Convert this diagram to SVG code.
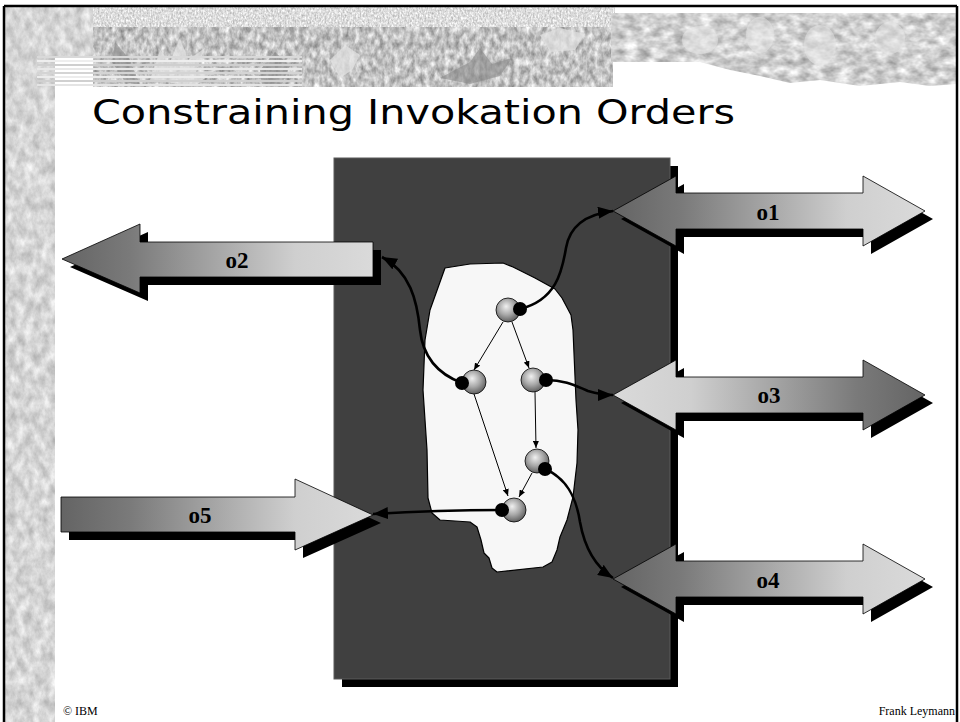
<svg xmlns="http://www.w3.org/2000/svg" xmlns:xlink="http://www.w3.org/1999/xlink" width="960" height="722" viewBox="0 0 960 722">
  <defs>
    <style>
      .arrow { stroke: #000; stroke-width: 0.8; }
      .shadow { fill: #000; }
      .lbl { font-family: "Liberation Serif", "Times New Roman", serif; font-weight: bold; font-size: 23px; text-anchor: middle; fill: #000; }
      .foot { font-family: "Liberation Serif", "Times New Roman", serif; font-size: 12px; fill: #000; }
      .sphere { fill: url(#sph); stroke: #000; stroke-width: 0.8; }
      .dot { fill: #000; }
      .thin { fill: none; stroke: #000; stroke-width: 1; marker-end: url(#as); }
      .thick { fill: none; stroke: #000; stroke-width: 2.6; marker-end: url(#ah); }
    </style>
    <filter id="texStrip" x="0" y="0" width="1" height="1" color-interpolation-filters="sRGB">
      <feTurbulence type="fractalNoise" baseFrequency="0.12 0.08" numOctaves="4" seed="7" result="n"/>
      <feColorMatrix in="n" type="matrix" values="0.35 0 0 0 0.66  0.35 0 0 0 0.66  0.35 0 0 0 0.66  0 0 0 0 1" result="g"/>
      <feComposite in="g" in2="SourceGraphic" operator="in"/>
    </filter>
    <filter id="texLight" x="0" y="0" width="1" height="1" color-interpolation-filters="sRGB">
      <feTurbulence type="fractalNoise" baseFrequency="0.6 0.4" numOctaves="2" seed="3" result="n"/>
      <feColorMatrix in="n" type="matrix" values="0.45 0 0 0 0.64  0.45 0 0 0 0.64  0.45 0 0 0 0.64  0 0 0 0 1" result="g"/>
      <feComposite in="g" in2="SourceGraphic" operator="in"/>
    </filter>
    <filter id="texMid" x="0" y="0" width="1" height="1" color-interpolation-filters="sRGB">
      <feTurbulence type="fractalNoise" baseFrequency="0.2 0.12" numOctaves="3" seed="11" result="n"/>
      <feColorMatrix in="n" type="matrix" values="0.6 0 0 0 0.46  0.6 0 0 0 0.46  0.6 0 0 0 0.46  0 0 0 0 1" result="g"/>
      <feComposite in="g" in2="SourceGraphic" operator="in"/>
    </filter>
    <filter id="texRock" x="0" y="0" width="1" height="1" color-interpolation-filters="sRGB">
      <feTurbulence type="fractalNoise" baseFrequency="0.08 0.12" numOctaves="3" seed="21" result="n"/>
      <feColorMatrix in="n" type="matrix" values="0.55 0 0 0 0.54  0.55 0 0 0 0.54  0.55 0 0 0 0.54  0 0 0 0 1" result="g"/>
      <feComposite in="g" in2="SourceGraphic" operator="in"/>
    </filter>
    <linearGradient id="gDarkLight" x1="0" y1="0" x2="1" y2="0">
      <stop offset="0" stop-color="#646464"/>
      <stop offset="0.22" stop-color="#7a7a7a"/>
      <stop offset="0.75" stop-color="#cfcfcf"/>
      <stop offset="1" stop-color="#dadada"/>
    </linearGradient>
    <linearGradient id="gLightDark" x1="0" y1="0" x2="1" y2="0">
      <stop offset="0" stop-color="#dadada"/>
      <stop offset="0.25" stop-color="#cfcfcf"/>
      <stop offset="0.78" stop-color="#7a7a7a"/>
      <stop offset="1" stop-color="#646464"/>
    </linearGradient>
    <radialGradient id="sph" cx="0.45" cy="0.4" r="0.6" fx="0.42" fy="0.35">
      <stop offset="0" stop-color="#f0f0f0"/>
      <stop offset="0.55" stop-color="#a8a8a8"/>
      <stop offset="1" stop-color="#606060"/>
    </radialGradient>
    <marker id="ah" viewBox="0 0 15 12" refX="15" refY="6" markerWidth="15" markerHeight="12" markerUnits="userSpaceOnUse" orient="auto">
      <path d="M0,0 L15,6 L0,12 Z" fill="#000"/>
    </marker>
    <marker id="as" viewBox="0 0 7 6" refX="7" refY="3" markerWidth="7" markerHeight="6" markerUnits="userSpaceOnUse" orient="auto">
      <path d="M0,0 L7,3 L0,6 Z" fill="#000"/>
    </marker>
    <path id="dbl" d="M613,0 L676,-35 L676,-18 L863,-18 L863,-35 L925,0 L863,35 L863,18 L676,18 L676,35 Z"/>
  </defs>

  <rect x="0" y="0" width="960" height="722" fill="#fff"/>

  <!-- slide decoration -->
  <g id="decoration">
    <path d="M5,7 L93,7 L93,56 L55,56 L55,722 L5,722 Z" fill="#d4d4d4" filter="url(#texStrip)"/>
    <rect x="93" y="7" width="522" height="22" fill="#ddd" filter="url(#texLight)"/>
    <rect x="93" y="27" width="520" height="60" fill="#bbb" filter="url(#texMid)"/>
    <g fill="#e4e4e4" opacity="0.7">
      <path d="M150,80 L160,50 L170,62 L180,38 L188,60 L205,48 L196,72 L215,70 L195,86 Z"/>
      <path d="M330,60 L345,45 L360,55 L352,70 L340,78 Z"/>
      <path d="M540,35 L560,28 L585,34 L575,50 L550,52 Z"/>
    </g>
    <g fill="#8a8a8a" opacity="0.6">
      <path d="M440,78 L470,62 L480,48 L492,64 L512,58 L500,76 L470,84 Z"/>
      <path d="M115,42 L130,60 L140,85 L125,82 L112,62 Z"/>
      <path d="M260,70 L275,52 L290,66 L282,84 L262,86 Z"/>
    </g>
    <g stroke-width="2">
      <line x1="37" y1="57" x2="302" y2="57" stroke="#d9d9d9"/>
      <line x1="37" y1="61" x2="302" y2="61" stroke="#eeeeee"/>
      <line x1="37" y1="65" x2="302" y2="65" stroke="#cfcfcf"/>
      <line x1="37" y1="69" x2="302" y2="69" stroke="#e8e8e8"/>
      <line x1="37" y1="73" x2="302" y2="73" stroke="#d4d4d4"/>
      <line x1="37" y1="77" x2="302" y2="77" stroke="#ececec"/>
      <line x1="37" y1="81" x2="302" y2="81" stroke="#d0d0d0"/>
      <line x1="37" y1="85" x2="302" y2="85" stroke="#e4e4e4"/>
    </g>
    <path d="M611,13 L957,13 L957,84 L930,86 L900,82 L860,86 L820,80 L790,83 L760,76 L730,70 L700,62 L611,62 Z" fill="#cccccc" filter="url(#texRock)"/>
    <g fill="#e8e8e8" opacity="0.5">
      <ellipse cx="700" cy="40" rx="18" ry="14"/>
      <ellipse cx="760" cy="35" rx="14" ry="18"/>
      <ellipse cx="820" cy="45" rx="16" ry="20"/>
      <ellipse cx="890" cy="38" rx="15" ry="16"/>
    </g>
    <path d="M4,6 L957,6 M4,6 L4,722 M957,6 L957,722" fill="none" stroke="#000" stroke-width="2.5"/>
  </g>

  <g id="title">
    <text x="92" y="124" font-family="'DejaVu Sans', 'Noto Sans', sans-serif" font-size="34" textLength="643" lengthAdjust="spacingAndGlyphs" fill="#000">Constraining Invokation Orders</text>
  </g>

  <g id="box">
    <rect x="342" y="166" width="336" height="521" fill="#000"/>
    <rect x="334" y="158" width="336" height="521" fill="#404040" stroke="#5a5a5a" stroke-width="1"/>
  </g>

  <g id="arrow-o2">
    <polygon class="shadow" transform="translate(8,8)" points="62,259 140,224 140,242 373,242 373,277 140,277 140,293"/>
    <polygon class="arrow" fill="url(#gDarkLight)" points="62,259 140,224 140,242 373,242 373,277 140,277 140,293"/>
    <text class="lbl" x="237" y="268">o2</text>
  </g>

  <g id="arrow-o5">
    <polygon class="shadow" transform="translate(8,8)" points="61,497 295,497 295,479 373,515 295,550 295,532 61,532"/>
    <polygon class="arrow" fill="url(#gDarkLight)" points="61,497 295,497 295,479 373,515 295,550 295,532 61,532"/>
    <text class="lbl" x="200" y="523">o5</text>
  </g>

  <g id="arrow-o1">
    <use xlink:href="#dbl" href="#dbl" class="shadow" transform="translate(8,219)"/>
    <use xlink:href="#dbl" href="#dbl" class="arrow" fill="url(#gDarkLight)" transform="translate(0,211)"/>
    <text class="lbl" x="768" y="220">o1</text>
  </g>

  <g id="arrow-o3">
    <use xlink:href="#dbl" href="#dbl" class="shadow" transform="translate(8,403)"/>
    <use xlink:href="#dbl" href="#dbl" class="arrow" fill="url(#gLightDark)" transform="translate(0,395)"/>
    <text class="lbl" x="769" y="403">o3</text>
  </g>

  <g id="arrow-o4">
    <use xlink:href="#dbl" href="#dbl" class="shadow" transform="translate(8,587)"/>
    <use xlink:href="#dbl" href="#dbl" class="arrow" fill="url(#gDarkLight)" transform="translate(0,579)"/>
    <text class="lbl" x="768" y="588">o4</text>
  </g>

  <g id="process">
    <path d="M445,268 L470,264 L503,263 L513,267 L535,278 L555,289 L562,298 L571,315 L573,330 L576,400 L578,430 L577,463 L573,497 L567,520 L560,537 L557,550 L552,562 L543,567 L497,572 L492,568 L489,558 L484,553 L481,540 L477,527 L470,522 L440,520 L432,513 L428,498 L427,450 L423,390 L425,340 L430,310 Z" fill="#f7f7f7" stroke="#000" stroke-width="1.2" stroke-linejoin="round"/>
  </g>

  <g id="connectors">
    <path class="thin" d="M503,322 L474,370"/>
    <path class="thin" d="M512,322 L529,368"/>
    <path class="thin" d="M474,394 L508,496"/>
    <path class="thin" d="M535,392 L536,448"/>
    <path class="thin" d="M532,473 L519,497"/>
    <path class="thick" d="M520,309 C556,300 562,272 566,248 C570,224 588,214 613,211"/>
    <path class="thick" d="M462,383 C438,374 423,358 420,330 C417,300 410,272 382,257"/>
    <path class="thick" d="M546,380 C566,380 576,386 588,391 C598,394 606,395 613,395"/>
    <path class="thick" d="M545,469 C566,478 576,496 580,522 C585,550 596,567 613,578"/>
    <path class="thick" d="M502,510 C462,510 422,511 373,514"/>
  </g>

  <g id="node-a"><circle class="sphere" cx="508" cy="310" r="12"/><circle class="dot" cx="520" cy="309" r="7"/></g>
  <g id="node-b"><circle class="sphere" cx="474" cy="382" r="12"/><circle class="dot" cx="462" cy="383" r="7"/></g>
  <g id="node-c"><circle class="sphere" cx="533" cy="380" r="12"/><circle class="dot" cx="546" cy="380" r="7"/></g>
  <g id="node-d"><circle class="sphere" cx="537" cy="461" r="12"/><circle class="dot" cx="545" cy="469" r="7"/></g>
  <g id="node-e"><circle class="sphere" cx="514" cy="510" r="12"/><circle class="dot" cx="502" cy="510" r="7"/></g>

  <g id="footer">
    <text class="foot" x="63" y="715">© IBM</text>
    <text class="foot" x="955" y="715" text-anchor="end">Frank Leymann</text>
  </g>
</svg>
